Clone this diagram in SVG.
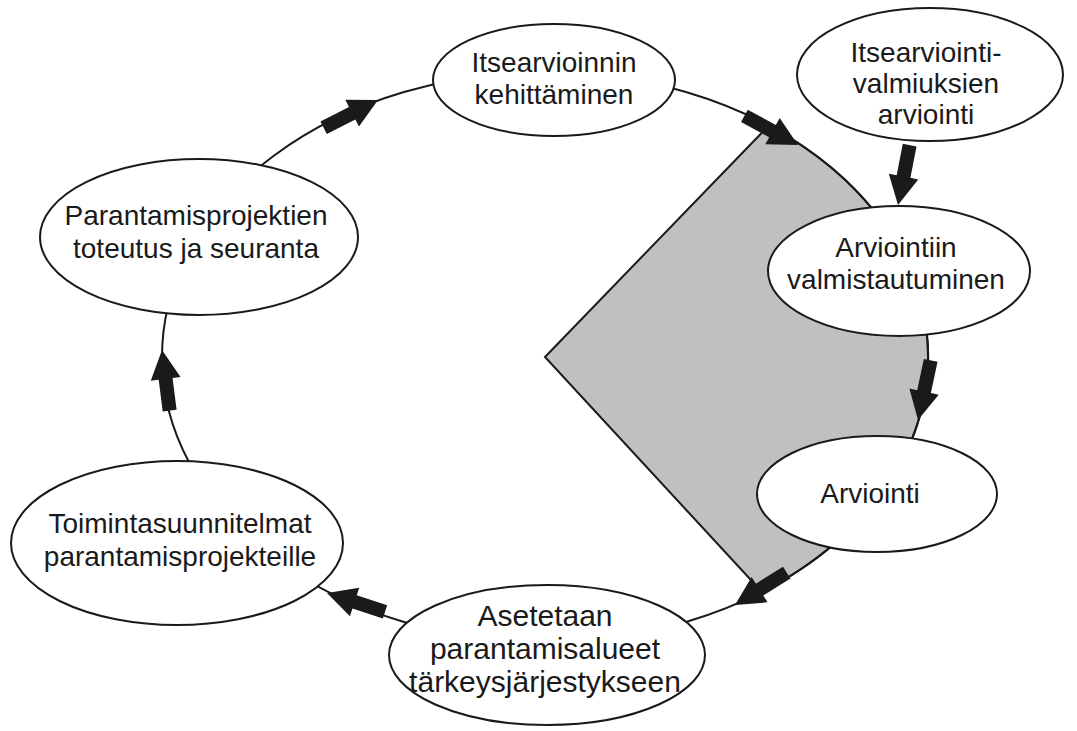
<svg xmlns="http://www.w3.org/2000/svg" xmlns:xlink="http://www.w3.org/1999/xlink" width="1077" height="731" viewBox="0 0 1077 731">
<style>
.node{fill:#fff;stroke:#1a1a1a;stroke-width:2}
.lbl{font-family:"Liberation Sans",Arial,sans-serif;font-size:28px;fill:#1a1a1a;text-anchor:middle}
.big{font-size:30px}
.loop{fill:none;stroke:#1a1a1a;stroke-width:2}
.arr{fill:#1a1a1a}
</style>
<defs>
<path id="blk" d="M-61,-7 L-29,-7 L-29,-15 L0,0 L-29,15 L-29,7 L-61,7 Z"/>
</defs>
<rect width="1077" height="731" fill="#fff"/>
<g id="wedge">
<path d="M545,357 L768.7,125.6 A383,285 0 0 1 762,592 Z" fill="#c0c0c0" stroke="#1a1a1a" stroke-width="2" stroke-linejoin="miter"/>
</g>
<g id="connectors">
<ellipse class="loop" cx="545" cy="357" rx="383" ry="285"/>
<use class="arr" xlink:href="#blk" transform="translate(378,100) rotate(-27)"/>
<use class="arr" xlink:href="#blk" transform="translate(798,145) rotate(28.5)"/>
<use class="arr" xlink:href="#blk" transform="translate(898,205) rotate(101)"/>
<use class="arr" xlink:href="#blk" transform="translate(918,420) rotate(102)"/>
<use class="arr" xlink:href="#blk" transform="translate(735,605) rotate(148)"/>
<use class="arr" xlink:href="#blk" transform="translate(327,593) rotate(198)"/>
<use class="arr" xlink:href="#blk" transform="translate(162,350) rotate(-97.2)"/>
</g>
<g id="n-kehittaminen">
<ellipse class="node" cx="554" cy="80" rx="121" ry="56"/>
<text class="lbl" x="554" y="72">Itsearvioinnin</text>
<text class="lbl" x="554" y="104">kehittäminen</text>
</g>
<g id="n-valmiudet">
<ellipse class="node" cx="930" cy="74.5" rx="133" ry="66.5"/>
<text class="lbl" x="926" y="62">Itsearviointi-</text>
<text class="lbl" x="926" y="93">valmiuksien</text>
<text class="lbl" x="926" y="124">arviointi</text>
</g>
<g id="n-valmistautuminen">
<ellipse class="node" cx="899" cy="271" rx="131" ry="65"/>
<text class="lbl" x="896" y="257">Arviointiin</text>
<text class="lbl" x="896" y="289">valmistautuminen</text>
</g>
<g id="n-arviointi">
<ellipse class="node" cx="877" cy="494" rx="120" ry="58"/>
<text class="lbl" x="870" y="503">Arviointi</text>
</g>
<g id="n-asetetaan">
<ellipse class="node" cx="547" cy="655" rx="158" ry="70"/>
<text class="lbl big" x="545" y="626">Asetetaan</text>
<text class="lbl big" x="545" y="659">parantamisalueet</text>
<text class="lbl big" x="545" y="692">tärkeysjärjestykseen</text>
</g>
<g id="n-toiminta">
<ellipse class="node" cx="177" cy="543" rx="166" ry="82"/>
<text class="lbl" x="180" y="533">Toimintasuunnitelmat</text>
<text class="lbl" x="180" y="566">parantamisprojekteille</text>
</g>
<g id="n-toteutus">
<ellipse class="node" cx="199" cy="237" rx="159" ry="78"/>
<text class="lbl" x="196" y="225">Parantamisprojektien</text>
<text class="lbl" x="196" y="258">toteutus ja seuranta</text>
</g>
</svg>
